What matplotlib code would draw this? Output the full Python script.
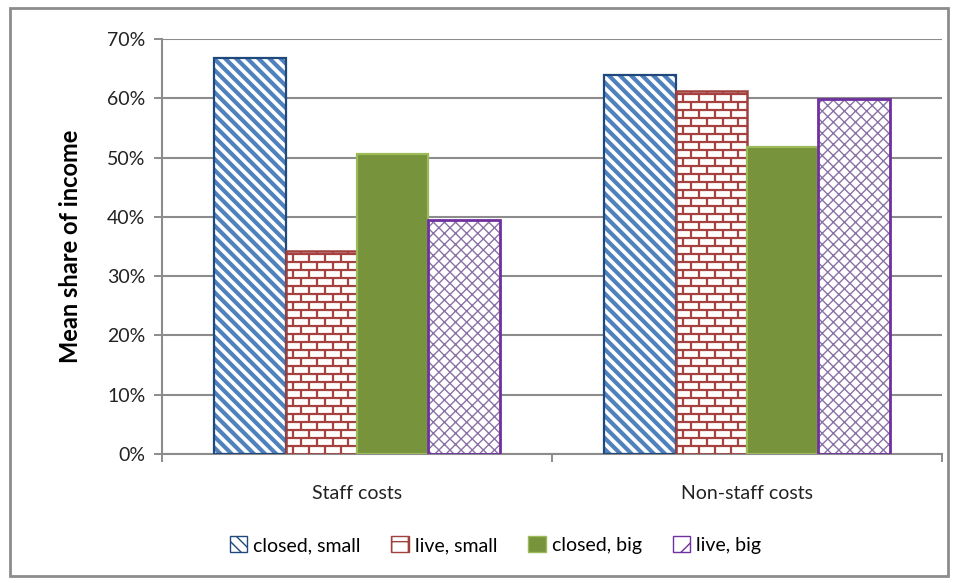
import numpy as np
import matplotlib
matplotlib.use("Agg")
import matplotlib.pyplot as plt
from matplotlib.patches import Patch, Rectangle
from matplotlib.collections import LineCollection

categories = ["Staff costs", "Non-staff costs"]
series = ["closed, small", "live, small", "closed, big", "live, big"]
closed_small = [66.8, 63.9]
live_small = [34.2, 61.2]
closed_big = [50.6, 51.8]
live_big = [39.5, 59.9]
yticks = [0, 10, 20, 30, 40, 50, 60, 70]

plt.rcParams['font.family'] = ['Lato', 'DejaVu Sans']

fig = plt.figure(figsize=(9.6, 5.83), dpi=100)
ax = fig.add_axes([162 / 960, 1 - 454 / 583, 780 / 960, 415 / 583])

width = 0.183
x = np.arange(len(categories))
grey = "#8c8c8c"


def brick_lines(ax, bar, color):
    # brick pattern: horizontal courses plus staggered joints, kept inside the bar
    x0 = bar.get_x()
    w = bar.get_width()
    h = bar.get_height()
    dy = 8 / 593 * 100
    dx = 15.7 / 390
    segs = []
    j = 0
    y = dy
    while y < h:
        segs.append([(x0, y), (x0 + w, y)])
        y += dy
    j = 0
    y = 0
    while y < h:
        off = (j % 2) * dx / 2
        xv = x0 + off + dx / 2
        while xv < x0 + w - 0.003:
            segs.append([(xv, y), (xv, min(y + dy, h))])
            xv += dx
        y += dy
        j += 1
    lc = LineCollection(segs, colors=color, linewidths=1.6, zorder=3)
    ax.add_collection(lc)


# closed, small: blue diagonal stripes
with plt.rc_context({'hatch.linewidth': 3.0}):
    ax.bar(x - 1.5 * width, closed_small, width, color="white",
           edgecolor="#4f81bd", hatch="\\\\\\", linewidth=0, zorder=2)
ax.bar(x - 1.5 * width, closed_small, width, fill=False,
       edgecolor="#1f497d", linewidth=1.6, zorder=4)

# live, small: red brick
bars = ax.bar(x - 0.5 * width, live_small, width, color="white",
              linewidth=0, zorder=2)
for b in bars:
    brick_lines(ax, b, "#a5413e")
ax.bar(x - 0.5 * width, live_small, width, fill=False,
       edgecolor="#a0403c", linewidth=1.8, zorder=4)

# closed, big: solid green
ax.bar(x + 0.5 * width, closed_big, width, color="#77933c",
       edgecolor="#9bbb59", linewidth=1.6, zorder=4)

# live, big: purple lattice
with plt.rc_context({'hatch.linewidth': 1.0}):
    ax.bar(x + 1.5 * width, live_big, width, color="white",
           edgecolor="#8a72a6", hatch="xxx", linewidth=0, zorder=2)
ax.bar(x + 1.5 * width, live_big, width, fill=False,
       edgecolor="#7030a0", linewidth=2.0, zorder=4)

ax.set_xlim(-0.5, 1.5)
ax.set_ylim(0, 70)
ax.set_yticks(yticks)
ax.set_yticklabels([f"{v}%" for v in yticks], fontsize=14, color="#222222")
ax.set_xticks([-0.5, 0.5, 1.5])
ax.set_xticklabels([])
ax.set_xticks(x, minor=True)
ax.set_xticklabels(categories, minor=True, fontsize=14, color="#222222")
ax.tick_params(axis="x", which="minor", length=0, pad=22)
ax.tick_params(axis="x", which="major", length=6, width=1.4, color=grey)
ax.tick_params(axis="y", length=6, width=1.4, color=grey, pad=6)

ax.grid(axis="y", color=grey, linewidth=1.5, zorder=0)
ax.set_axisbelow(True)
for s in ["top", "right"]:
    ax.spines[s].set_visible(False)
for s in ["left", "bottom"]:
    ax.spines[s].set_color(grey)
    ax.spines[s].set_linewidth(1.5)

ax.set_ylabel("Mean share of income", fontsize=17, fontweight="bold", labelpad=18)

handles = [
    Patch(facecolor="white", edgecolor="#1f497d", hatch="\\\\\\"),
    Patch(facecolor="white", edgecolor="#a0403c", hatch="+"),
    Patch(facecolor="#77933c", edgecolor="#9bbb59"),
    Patch(facecolor="white", edgecolor="#7030a0", hatch="/"),
]
fig.legend(handles, series, loc="center", bbox_to_anchor=(0.516, 1 - 545 / 583),
           ncol=4, frameon=False, fontsize=14, handlelength=0.9, handleheight=0.9,
           handletextpad=0.3, columnspacing=1.6)

fig.patches.append(Rectangle((10 / 960, 1 - 576 / 583), 938 / 960, 568 / 583,
                             transform=fig.transFigure, fill=False,
                             edgecolor="#8c8c8c", linewidth=2))

fig.savefig("out.png", dpi=100)
